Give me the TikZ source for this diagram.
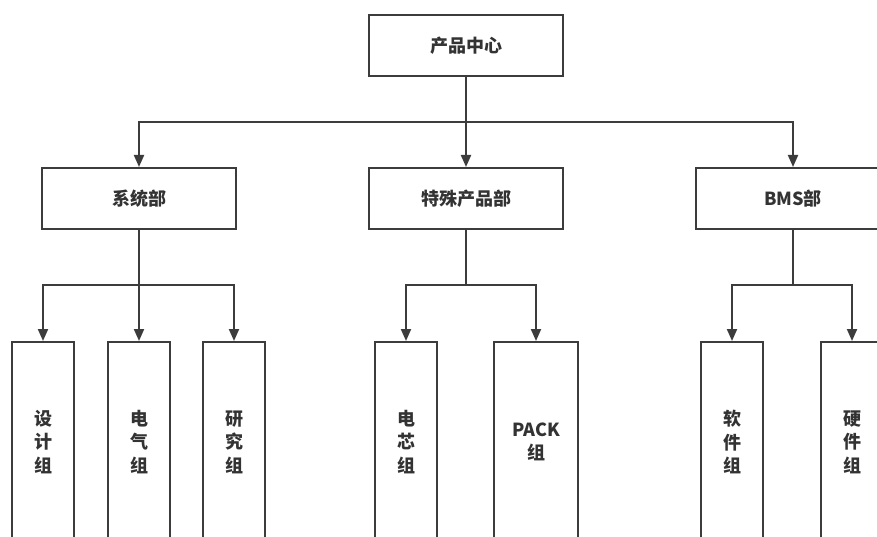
\documentclass[tikz,border=0pt]{standalone}
\usepackage{fontspec}
\usepackage{tikz}
\usetikzlibrary{positioning,arrows.meta}
\newfontfamily\cjk{Noto Sans CJK SC}
\definecolor{linecolor}{HTML}{3C3C3C}
\definecolor{textcolor}{HTML}{333333}
\tikzset{
  org/.style={draw=linecolor, line width=2pt, fill=white, minimum width=194pt, minimum height=61pt, inner sep=0pt, text=textcolor, font=\cjk\bfseries\fontsize{18}{22}\selectfont},
  grp/.style={draw=linecolor, line width=2pt, fill=white, minimum width=62pt, minimum height=200pt, anchor=north, inner sep=0pt, align=center, text=textcolor, font=\cjk\bfseries\fontsize{18}{23.5}\selectfont},
  flow/.style={-{Triangle[length=12pt, width=10pt]}, line width=2pt, draw=linecolor},
}

\begin{document}
\begin{tikzpicture}[x=1pt, y=-1pt]
\useasboundingbox (0,0) rectangle (877,537);
\clip (0,0) rectangle (877,537);
% centre
\node[org] (center) at (466,45.5) {产品中心};
% departments
\node[org] (sys) at (139,198.5) {系统部};
\node[org] (spec) at (466,198.5) {特殊产品部};
\node[org] (bms) at (793,198.5) {BMS部};
% groups
\node[grp] (design) at (43,341) {设\\计\\组};
\node[grp] (elec) at (139,341) {电\\气\\组};
\node[grp] (research) at (234,341) {研\\究\\组};
\node[grp] (cell) at (406,341) {电\\芯\\组};
\node[grp, minimum width=84pt] (pack) at (536,341) {PACK\\组};
\node[grp] (soft) at (732,341) {软\\件\\组};
\node[grp] (hard) at (852,341) {硬\\件\\组};
% connectors
\draw[flow] (center) -- (spec);
\draw[flow] (center.south) |- ([yshift=45pt]sys.north) -- (sys.north);
\draw[flow] (center.south) |- ([yshift=45pt]bms.north) -- (bms.north);
\draw[flow] (sys) -- (elec);
\draw[flow] (sys.south) |- ([yshift=56pt]design.north) -- (design.north);
\draw[flow] (sys.south) |- ([yshift=56pt]research.north) -- (research.north);
\draw[flow] (spec.south) |- ([yshift=56pt]cell.north) -- (cell.north);
\draw[flow] (spec.south) |- ([yshift=56pt]pack.north) -- (pack.north);
\draw[flow] (bms.south) |- ([yshift=56pt]soft.north) -- (soft.north);
\draw[flow] (bms.south) |- ([yshift=56pt]hard.north) -- (hard.north);
\end{tikzpicture}
\end{document}
